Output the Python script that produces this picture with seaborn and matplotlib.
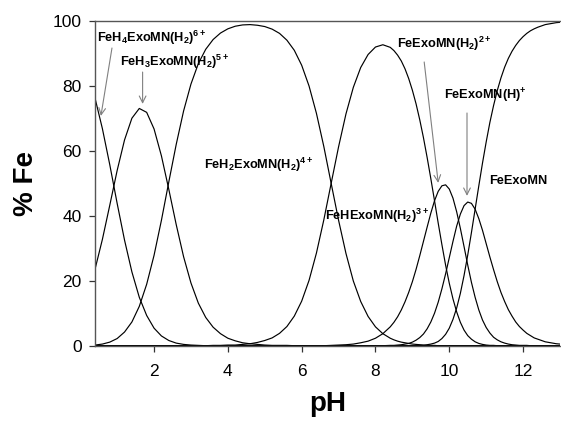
import matplotlib
matplotlib.use("Agg")
import matplotlib.pyplot as plt
import seaborn as sns
import pandas as pd

# ---- data ----
pH = [0.4, 0.6, 0.8, 1.0, 1.2, 1.4, 1.6, 1.8, 2.0, 2.2,
      2.4, 2.6, 2.8, 3.0, 3.2, 3.4, 3.6, 3.8, 4.0, 4.2,
      4.4, 4.6, 4.8, 5.0, 5.2, 5.4, 5.6, 5.8, 6.0, 6.2,
      6.4, 6.6, 6.8, 7.0, 7.2, 7.4, 7.6, 7.8, 8.0, 8.2,
      8.4, 8.5, 8.6, 8.7, 8.8, 8.9, 9.0, 9.1, 9.2, 9.3,
      9.4, 9.5, 9.6, 9.7, 9.8, 9.9, 10.0, 10.1, 10.2, 10.3,
      10.4, 10.5, 10.6, 10.7, 10.8, 10.9, 11.0, 11.1, 11.2, 11.3,
      11.4, 11.5, 11.6, 11.7, 11.8, 11.9, 12.0, 12.1, 12.2, 12.3,
      12.4, 12.5, 12.6, 12.7, 12.8, 12.9, 13.0]

feh4 = [76.2, 66.8, 55.7, 43.8, 32.5, 22.7, 14.9, 9.3, 5.4, 3.0,
        1.6, 0.8, 0.4, 0.2, 0.1, 0, 0, 0, 0, 0,
        0, 0, 0, 0, 0, 0, 0, 0, 0, 0,
        0, 0, 0, 0, 0, 0, 0, 0, 0, 0,
        0, 0, 0, 0, 0, 0, 0, 0, 0, 0,
        0, 0, 0, 0, 0, 0, 0, 0, 0, 0,
        0, 0, 0, 0, 0, 0, 0, 0, 0, 0,
        0, 0, 0, 0, 0, 0, 0, 0, 0, 0,
        0, 0, 0, 0, 0, 0, 0]

feh3 = [23.5, 32.7, 43.2, 53.9, 63.3, 70.0, 73.0, 71.8, 66.7, 58.4,
        48.1, 37.3, 27.4, 19.3, 13.1, 8.7, 5.7, 3.7, 2.3, 1.5,
        0.9, 0.6, 0.4, 0.2, 0.1, 0.1, 0.1, 0, 0, 0,
        0, 0, 0, 0, 0, 0, 0, 0, 0, 0,
        0, 0, 0, 0, 0, 0, 0, 0, 0, 0,
        0, 0, 0, 0, 0, 0, 0, 0, 0, 0,
        0, 0, 0, 0, 0, 0, 0, 0, 0, 0,
        0, 0, 0, 0, 0, 0, 0, 0, 0, 0,
        0, 0, 0, 0, 0, 0, 0]

feh2 = [0.2, 0.5, 1.1, 2.2, 4.2, 7.3, 12.1, 18.9, 27.8, 38.6,
        50.4, 61.9, 72.2, 80.5, 86.8, 91.2, 94.2, 96.2, 97.5, 98.3,
        98.7, 98.8, 98.6, 98.2, 97.4, 96.1, 94.0, 90.9, 86.3, 79.9,
        71.5, 61.3, 49.9, 38.6, 28.4, 19.9, 13.6, 9.0, 5.8, 3.7,
        2.3, 1.8, 1.4, 1.1, 0.9, 0.7, 0.5, 0.4, 0.3, 0.2,
        0.1, 0.1, 0.1, 0, 0, 0, 0, 0, 0, 0,
        0, 0, 0, 0, 0, 0, 0, 0, 0, 0,
        0, 0, 0, 0, 0, 0, 0, 0, 0, 0,
        0, 0, 0, 0, 0, 0, 0]

feh1 = [0, 0, 0, 0, 0, 0, 0, 0, 0, 0,
        0, 0, 0, 0, 0, 0, 0.1, 0.1, 0.2, 0.2,
        0.4, 0.6, 1.0, 1.6, 2.4, 3.8, 5.9, 9.1, 13.7, 20.1,
        28.5, 38.7, 50.0, 61.2, 71.3, 79.5, 85.6, 89.6, 91.9, 92.6,
        91.8, 90.8, 89.4, 87.6, 85.2, 82.2, 78.6, 74.4, 69.5, 64.0,
        57.9, 51.4, 44.6, 37.7, 31.1, 24.8, 19.2, 14.4, 10.4, 7.2,
        4.8, 3.1, 2.0, 1.2, 0.7, 0.4, 0.2, 0.1, 0.1, 0,
        0, 0, 0, 0, 0, 0, 0, 0, 0, 0,
        0, 0, 0, 0, 0, 0, 0]

fe_h2 = [0, 0, 0, 0, 0, 0, 0, 0, 0, 0,
         0, 0, 0, 0, 0, 0, 0, 0, 0, 0,
         0, 0, 0, 0, 0, 0, 0, 0, 0, 0,
         0, 0, 0.1, 0.2, 0.3, 0.5, 0.9, 1.4, 2.3, 3.7,
         5.8, 7.2, 8.9, 11.0, 13.5, 16.4, 19.7, 23.5, 27.7, 32.1,
         36.5, 40.8, 44.6, 47.5, 49.2, 49.5, 48.2, 45.4, 41.2, 36.1,
         30.5, 24.8, 19.5, 14.9, 11.0, 7.9, 5.6, 3.9, 2.6, 1.8,
         1.2, 0.8, 0.5, 0.3, 0.2, 0.1, 0.1, 0.1, 0, 0,
         0, 0, 0, 0, 0, 0, 0]

fe_h = [0, 0, 0, 0, 0, 0, 0, 0, 0, 0,
        0, 0, 0, 0, 0, 0, 0, 0, 0, 0,
        0, 0, 0, 0, 0, 0, 0, 0, 0, 0,
        0, 0, 0, 0, 0, 0, 0, 0, 0, 0,
        0.1, 0.1, 0.2, 0.3, 0.5, 0.7, 1.1, 1.7, 2.5, 3.6,
        5.2, 7.3, 10.0, 13.4, 17.5, 22.1, 27.1, 32.1, 36.8, 40.5,
        43.1, 44.2, 43.8, 42.0, 39.1, 35.5, 31.4, 27.3, 23.4, 19.7,
        16.4, 13.6, 11.1, 9.1, 7.3, 5.9, 4.8, 3.8, 3.1, 2.4,
        2.0, 1.6, 1.2, 1.0, 0.8, 0.6, 0.5]

fe = [0, 0, 0, 0, 0, 0, 0, 0, 0, 0,
      0, 0, 0, 0, 0, 0, 0, 0, 0, 0,
      0, 0, 0, 0, 0, 0, 0, 0, 0, 0,
      0, 0, 0, 0, 0, 0, 0, 0, 0, 0,
      0, 0, 0, 0, 0, 0, 0, 0, 0.1, 0.1,
      0.3, 0.5, 0.8, 1.3, 2.2, 3.5, 5.4, 8.1, 11.6, 16.1,
      21.6, 27.9, 34.8, 42.0, 49.2, 56.2, 62.7, 68.7, 73.9, 78.5,
      82.4, 85.7, 88.4, 90.6, 92.4, 93.9, 95.1, 96.1, 96.9, 97.5,
      98.0, 98.4, 98.8, 99.0, 99.2, 99.4, 99.5]

species = ["FeH4", "FeH3", "FeH2", "FeH", "Fe(H2)", "Fe(H)", "Fe"]
series = [feh4, feh3, feh2, feh1, fe_h2, fe_h, fe]

labels = [r'FeH$_4$ExoMN(H$_2$)$^{6+}$', r'FeH$_3$ExoMN(H$_2$)$^{5+}$',
          r'FeH$_2$ExoMN(H$_2$)$^{4+}$', r'FeHExoMN(H$_2$)$^{3+}$',
          r'FeExoMN(H$_2$)$^{2+}$', r'FeExoMN(H)$^{+}$', 'FeExoMN']

# ---- long-form table ----
frames = [pd.DataFrame({"pH": pH, "pct": s, "species": n}) for n, s in zip(species, series)]
df = pd.concat(frames, ignore_index=True)

sns.set_theme(style="ticks")
plt.rcParams['font.family'] = ['Liberation Sans', 'DejaVu Sans']
plt.rcParams['mathtext.fontset'] = 'custom'
for k in ['rm', 'it', 'bf', 'sf']:
    plt.rcParams['mathtext.' + k] = 'Liberation Sans:bold'

fig = plt.figure(figsize=(5.61, 4.22), dpi=100)
ax = fig.add_axes([95/561, 1-345.7/422, 465/561, 325/422])
sns.lineplot(data=df, x="pH", y="pct", hue="species", units="species", estimator=None,
             palette={n: "black" for n in species}, lw=0.85, legend=False, ax=ax)

ax.set_xlim(0.4, 13.0)
ax.set_ylim(0, 100)
ax.set_xticks([2, 4, 6, 8, 10, 12])
ax.set_yticks([0, 20, 40, 60, 80, 100])
ax.tick_params(axis='both', labelsize=12.5, length=4.5, width=0.9, color='#333333',
               labelcolor='black', direction='out')
ax.tick_params(axis='x', pad=9)
ax.tick_params(axis='y', pad=5)
for s in ['left', 'bottom', 'top']:
    ax.spines[s].set_color('#555555')
    ax.spines[s].set_linewidth(1)
ax.spines['right'].set_visible(False)
ax.set_xlabel('pH', fontsize=20, fontweight='bold', labelpad=8, color='black')
ax.set_ylabel('% Fe', fontsize=20, fontweight='bold', labelpad=10, color='black')

fs = 9.2
text_pos = [(0.45, 94.7), (1.07, 87.3), (3.36, 55.6), (6.64, 39.9),
            (8.57, 92.8), (9.86, 76.8), (11.07, 50.7)]
for lab, (x, y) in zip(labels, text_pos):
    ax.text(x, y, lab, fontsize=fs, fontweight='bold', va='center', color='black')

arr = dict(arrowstyle='->', color='#808080', lw=0.8, shrinkA=0, shrinkB=0)
ax.annotate('', xy=(0.56, 70.7), xytext=(0.86, 91.6), arrowprops=arr)
ax.annotate('', xy=(1.69, 74.4), xytext=(1.69, 84.2), arrowprops=arr)
ax.annotate('', xy=(9.70, 50.1), xytext=(9.32, 87.3), arrowprops=arr)
ax.annotate('', xy=(10.48, 46.1), xytext=(10.48, 71.6), arrowprops=arr)

fig.savefig("out.png", dpi=100)
